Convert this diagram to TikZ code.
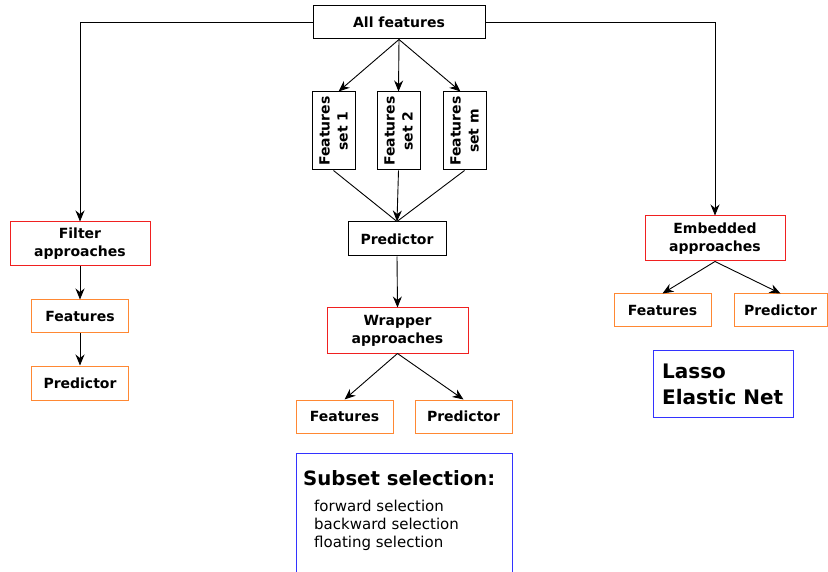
\documentclass[tikz,border=0pt]{standalone}
\usepackage{fontspec}
\setmainfont{DejaVu Sans}
\usetikzlibrary{arrows.meta}
\definecolor{redb}{HTML}{F02020}
\definecolor{orangeb}{HTML}{FF8833}
\definecolor{blueb}{HTML}{3333FF}
\tikzset{
  box/.style={draw=black, line width=1pt, inner sep=0pt, align=center,
    font=\fontsize{14}{18}\selectfont\bfseries},
  redbox/.style={box, draw=redb},
  orbox/.style={box, draw=orangeb},
  setbox/.style={box, rotate=90, minimum width=78pt, minimum height=43pt},
  conn/.style={line width=0.9pt, -{Stealth[length=11pt,width=9pt]}},
  plain/.style={line width=0.9pt}
}
\begin{document}
\begin{tikzpicture}[x=1pt,y=-1pt]
\useasboundingbox[fill=white] (0,0) rectangle (828,572);
% top
\node[box, minimum width=172pt, minimum height=33pt] (all) at (399,22.5) {All features};
% feature sets
\node[setbox] (s1) at (333.5,131) {Features\\set 1};
\node[setbox] (s2) at (398.5,131) {Features\\set 2};
\node[setbox] (sm) at (464.5,131) {Features\\set m};
\node[box, minimum width=98pt, minimum height=34pt] (pm) at (397,239) {Predictor};
\node[redbox, minimum width=141pt, minimum height=45pt] (wr) at (397.5,330.5) {Wrapper\\approaches};
\node[orbox, minimum width=97pt, minimum height=33pt] (wf) at (344.5,416.5) {Features};
\node[orbox, minimum width=97pt, minimum height=33pt] (wp) at (463.5,416.5) {Predictor};
% subset selection box (open at bottom)
\coordinate (ssl) at (296,453);
\coordinate (ssr) at (512,453);
\coordinate (ssbl) at (296,580);
\coordinate (ssbr) at (512,580);
\draw[blueb, line width=1pt] (ssbl) -- (ssl) -- (ssr) -- (ssbr);
\node[anchor=west, inner sep=0pt, font=\fontsize{19.7}{22}\selectfont\bfseries] (sst) at (303,478) {Subset selection:};
\node[anchor=north west, inner sep=0pt, align=left, font=\fontsize{15}{18}\selectfont] (ssl2) at (314,500) {forward selection\\backward selection\\floating selection};
% filter
\node[redbox, minimum width=140pt, minimum height=44pt] (fi) at (80,244) {Filter\\approaches};
\node[orbox, minimum width=97pt, minimum height=33pt] (ff) at (80,316.5) {Features};
\node[orbox, minimum width=97pt, minimum height=34pt] (fp) at (80,383) {Predictor};
% embedded
\node[redbox, minimum width=140pt, minimum height=45pt] (em) at (715,238.5) {Embedded\\approaches};
\node[orbox, minimum width=97pt, minimum height=33pt] (ef) at (662.5,310.5) {Features};
\node[orbox, minimum width=93pt, minimum height=33pt] (ep) at (780.5,310.5) {Predictor};
\node[draw=blueb, line width=1pt, minimum width=140pt, minimum height=67pt, inner sep=0pt] (la) at (723,383.5) {};
\node[anchor=west, inner sep=0pt, align=left, font=\fontsize{20}{26}\selectfont\bfseries] (lat) at (662,384) {Lasso\\Elastic Net};
% connectors
\draw[conn] (all.west) -| (fi.north);
\draw[conn] (all.east) -| (em.north);
\draw[conn] (all.south) -- ([xshift=5pt]s1.east);
\draw[conn] (all.south) -- (s2.east);
\draw[conn] (all.south) -- ([xshift=-4pt]sm.east);
\draw[plain] (s1.west) -- (pm.north);
\draw[plain] (sm.west) -- (pm.north);
\draw[conn] (s2.west) -- (pm.north);
\draw[conn] (pm.south) -- (wr.north);
\draw[conn] (wr.south) -- (wf.north);
\draw[conn] (wr.south) -- (wp.north);
\draw[conn] (fi.south) -- (ff.north);
\draw[conn] (ff.south) -- (fp.north);
\draw[conn] (em.south) -- (ef.north);
\draw[conn] (em.south) -- (ep.north);
\end{tikzpicture}
\end{document}
